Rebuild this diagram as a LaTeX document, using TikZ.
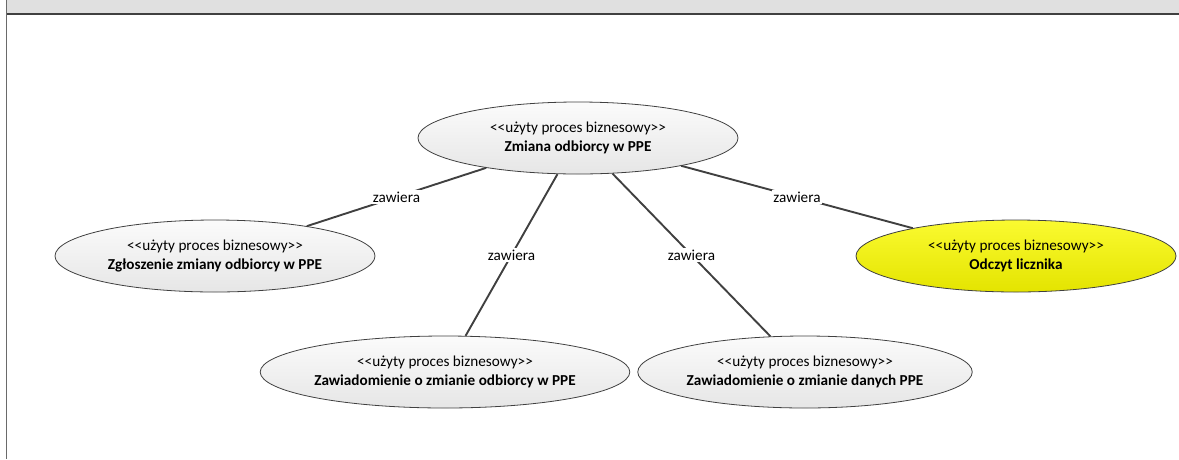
\documentclass[tikz,border=0pt]{standalone}
\usepackage{fontspec}
\setmainfont{Carlito}
\usetikzlibrary{shapes.geometric}
\definecolor{edgec}{HTML}{404040}
\definecolor{headc}{HTML}{E0E0E0}
\definecolor{framec}{HTML}{6A6A6A}
\definecolor{ylwtop}{HTML}{FAFA30}
\definecolor{ylwbot}{HTML}{E4E400}
\definecolor{grytop}{HTML}{FBFBFB}
\definecolor{grybot}{HTML}{E6E6E6}
\newcommand{\stereo}{<\kern0pt<użyty proces biznesowy>\kern0pt>}
\begin{document}
\begin{tikzpicture}[x=1pt,y=-1pt,
  uc/.style={ellipse, draw=edgec, line width=0.8pt, minimum width=320pt, minimum height=72pt,
    inner sep=0pt, top color=grytop, bottom color=grybot, align=center,
    font=\fontsize{15.2}{18.2}\selectfont},
  ucy/.style={uc, top color=ylwtop, bottom color=ylwbot},
  conn/.style={draw=edgec, line width=1.9pt},
  lbl/.style={fill=white, inner sep=1.5pt, font=\fontsize{15.2}{18.2}\selectfont}]
\useasboundingbox (0,0) rectangle (1179,459);
\fill[headc] (7,0) rectangle (1179,14);
\draw[line width=1.5pt, color=edgec] (7,14) -- (1179,14);
\draw[framec, line width=1.3pt] (6.5,0) -- (6.5,459);

\node[uc] (top) at (578,138) {\stereo\\\textbf{Zmiana odbiorcy w PPE}};
\node[uc] (zl) at (215,256) {\stereo\\\textbf{Zgłoszenie zmiany odbiorcy w PPE}};
\node[ucy] (odc) at (1016,256) {\stereo\\\textbf{Odczyt licznika}};
\node[uc] (bl) at (445,372) {\stereo\\\textbf{Zawiadomienie o zmianie odbiorcy w PPE}};
\node[uc] (br) at (805,372) {\stereo\\\textbf{Zawiadomienie o zmianie danych PPE}};

\draw[conn] (top) -- node[lbl] {zawiera} (zl);
\draw[conn] (top) -- node[lbl] {zawiera} (bl);
\draw[conn] (top) -- node[lbl] {zawiera} (br);
\draw[conn] (top) -- node[lbl] {zawiera} (odc);
\end{tikzpicture}
\end{document}
